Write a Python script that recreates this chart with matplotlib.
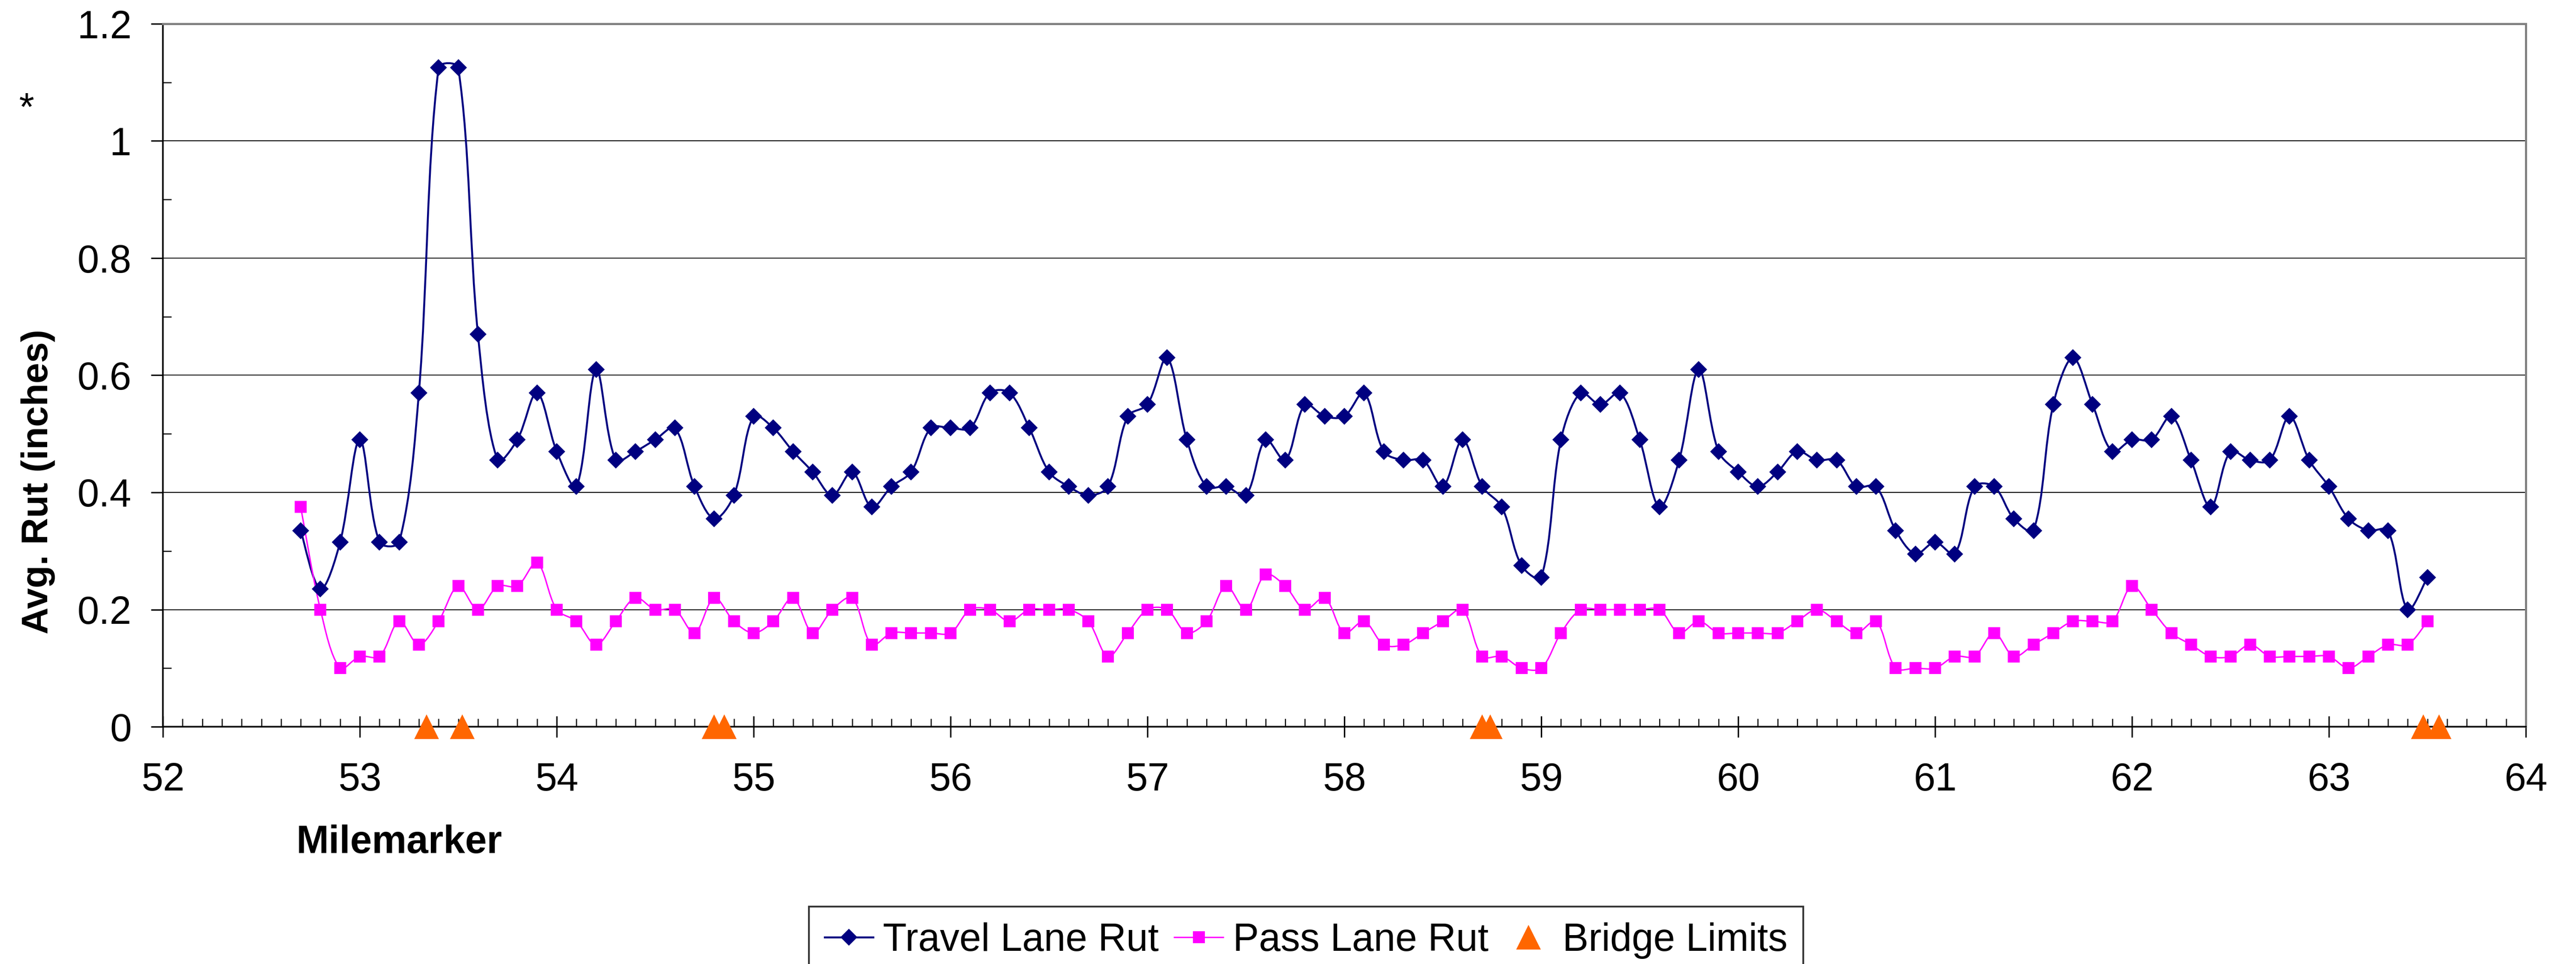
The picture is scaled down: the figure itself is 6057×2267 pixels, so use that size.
import numpy as np
import matplotlib
matplotlib.use('Agg')
from matplotlib import pyplot as plt
from matplotlib.path import Path
from matplotlib.patches import PathPatch
from matplotlib.lines import Line2D
from matplotlib.ticker import MultipleLocator, FuncFormatter

plt.rcParams['font.family'] = ['Liberation Sans', 'DejaVu Sans']

# milemarkers, one reading every 0.1 mile
mile = np.round(np.arange(52.7, 63.55, 0.1), 1)

travel_rut = [0.335, 0.235, 0.315,
              0.49, 0.315, 0.315, 0.57, 1.125, 1.125, 0.67, 0.455, 0.49, 0.57,
              0.47, 0.41, 0.61, 0.455, 0.47, 0.49, 0.51, 0.41, 0.355, 0.395,
              0.53, 0.51, 0.47, 0.435, 0.395, 0.435, 0.375, 0.41, 0.435, 0.51,
              0.51, 0.51, 0.57, 0.57, 0.51, 0.435, 0.41, 0.395, 0.41, 0.53,
              0.55, 0.63, 0.49, 0.41, 0.41, 0.395, 0.49, 0.455, 0.55, 0.53,
              0.53, 0.57, 0.47, 0.455, 0.455, 0.41, 0.49, 0.41, 0.375, 0.275,
              0.255, 0.49, 0.57, 0.55, 0.57, 0.49, 0.375, 0.455, 0.61, 0.47,
              0.435, 0.41, 0.435, 0.47, 0.455, 0.455, 0.41, 0.41, 0.335, 0.295,
              0.315, 0.295, 0.41, 0.41, 0.355, 0.335, 0.55, 0.63, 0.55, 0.47,
              0.49, 0.49, 0.53, 0.455, 0.375, 0.47, 0.455, 0.455, 0.53, 0.455,
              0.41, 0.355, 0.335, 0.335, 0.2, 0.255]

pass_rut = [0.375, 0.2, 0.1,
            0.12, 0.12, 0.18, 0.14, 0.18, 0.24, 0.2, 0.24, 0.24, 0.28,
            0.2, 0.18, 0.14, 0.18, 0.22, 0.2, 0.2, 0.16, 0.22, 0.18,
            0.16, 0.18, 0.22, 0.16, 0.2, 0.22, 0.14, 0.16, 0.16, 0.16,
            0.16, 0.2, 0.2, 0.18, 0.2, 0.2, 0.2, 0.18, 0.12, 0.16,
            0.2, 0.2, 0.16, 0.18, 0.24, 0.2, 0.26, 0.24, 0.2, 0.22,
            0.16, 0.18, 0.14, 0.14, 0.16, 0.18, 0.2, 0.12, 0.12, 0.1,
            0.1, 0.16, 0.2, 0.2, 0.2, 0.2, 0.2, 0.16, 0.18, 0.16,
            0.16, 0.16, 0.16, 0.18, 0.2, 0.18, 0.16, 0.18, 0.1, 0.1,
            0.1, 0.12, 0.12, 0.16, 0.12, 0.14, 0.16, 0.18, 0.18, 0.18,
            0.24, 0.2, 0.16, 0.14, 0.12, 0.12, 0.14, 0.12, 0.12, 0.12,
            0.12, 0.1, 0.12, 0.14, 0.14, 0.18]

bridge_mile = [53.34, 53.52, 54.8, 54.85, 58.7, 58.74, 63.48, 63.56]
bridge_val = [0, 0, 0, 0, 0, 0, 0, 0]

NAVY = '#000080'
MAGENTA = '#FF00FF'
ORANGE = '#FF6600'


def smooth_path(ax, x, y, t=1.0 / 3):
    # excel style smoothed line: cubic bezier through every point,
    # control arms weighted by the on-screen length of each segment
    pts = np.column_stack([x, y]).astype(float)
    scr = ax.transData.transform(pts)
    n = len(pts)
    seg = np.hypot(*(scr[1:] - scr[:-1]).T)
    verts = [tuple(pts[0])]
    codes = [Path.MOVETO]
    for i in range(n - 1):
        p0 = pts[i - 1] if i > 0 else pts[i]
        p3 = pts[i + 2] if i + 2 < n else pts[i + 1]
        d_prev = seg[i - 1] if i > 0 else seg[i]
        d_next = seg[i + 1] if i + 2 < n else seg[i]
        d = seg[i]
        c1 = pts[i] + t * (pts[i + 1] - p0) * d / (d_prev + d)
        c2 = pts[i + 1] - t * (p3 - pts[i]) * d / (d + d_next)
        verts += [tuple(c1), tuple(c2), tuple(pts[i + 1])]
        codes += [Path.CURVE4] * 3
    return Path(verts, codes)


fig = plt.figure(figsize=(6057 / 300, 2267 / 300), dpi=300)
ax = fig.add_axes([383 / 6057, 1 - 1709 / 2267, (5939 - 383) / 6057, (1709 - 56) / 2267])
ax.set_xlim(52, 64)
ax.set_ylim(0, 1.2)

ax.add_patch(PathPatch(smooth_path(ax, mile, travel_rut), fill=False, edgecolor=NAVY, lw=1.1, zorder=3))
ax.add_patch(PathPatch(smooth_path(ax, mile, pass_rut), fill=False, edgecolor=MAGENTA, lw=0.8, zorder=3))
ax.plot(mile, travel_rut, ls='none', marker='D', ms=5.8, color=NAVY, zorder=4)
ax.plot(mile, pass_rut, ls='none', marker='s', ms=5.6, color=MAGENTA, zorder=4)
ax.plot(bridge_mile, bridge_val, ls='none', marker='^', ms=14, color=ORANGE, mec='none',
        zorder=6, clip_on=False)

ax.xaxis.set_major_locator(MultipleLocator(1))
ax.xaxis.set_minor_locator(MultipleLocator(0.1))
ax.yaxis.set_major_locator(MultipleLocator(0.2))
ax.yaxis.set_minor_locator(MultipleLocator(0.1))
ax.yaxis.set_major_formatter(FuncFormatter(lambda v, p: '{:g}'.format(round(v, 1))))

ax.tick_params(axis='x', which='major', direction='inout', length=12, width=0.8, pad=14, labelsize=22)
ax.tick_params(axis='x', which='minor', direction='in', length=4.5, width=0.6)
ax.tick_params(axis='y', which='major', direction='out', length=6.7, width=0.8, pad=11, labelsize=22)
ax.tick_params(axis='y', which='minor', direction='in', length=4.8, width=0.6)

ax.yaxis.grid(True, which='major', color='black', lw=0.5)
ax.set_axisbelow(True)

for side in ['left', 'bottom']:
    ax.spines[side].set_color('black')
    ax.spines[side].set_linewidth(0.9)
for side in ['top', 'right']:
    ax.spines[side].set_color('#808080')
    ax.spines[side].set_linewidth(1.2)

ax.set_xlabel('Milemarker', fontsize=22, fontweight='bold')
ax.xaxis.set_label_coords((939 - 383) / 5556, (1709 - 1939) / 1653)
ax.set_ylabel('Avg. Rut (inches)', fontsize=21, fontweight='bold')
ax.yaxis.set_label_coords((130 - 383) / 5556, (1709 - 1133) / 1653)

fig.text(62 / 6057, 1 - 282 / 2267, '*', fontsize=22, ha='center', va='baseline')

handles = [Line2D([], [], color=NAVY, lw=1.1, marker='D', ms=5.8),
           Line2D([], [], color=MAGENTA, lw=0.8, marker='s', ms=5.6),
           Line2D([], [], ls='none', marker='^', ms=14, color=ORANGE, mec='none')]
labels = ['Travel Lane Rut', 'Pass Lane Rut', 'Bridge Limits']
leg = fig.legend(handles, labels, loc='upper left', bbox_to_anchor=(1902 / 6057, 1 - 2132 / 2267),
                 ncol=3, fontsize=22, frameon=True, fancybox=False, shadow=False,
                 handlelength=1.25, handletextpad=0.25, columnspacing=0.4, borderpad=0.4,
                 borderaxespad=0)
leg.get_frame().set_edgecolor('black')
leg.get_frame().set_linewidth(1.0)

plt.savefig('out.png', dpi=300)
